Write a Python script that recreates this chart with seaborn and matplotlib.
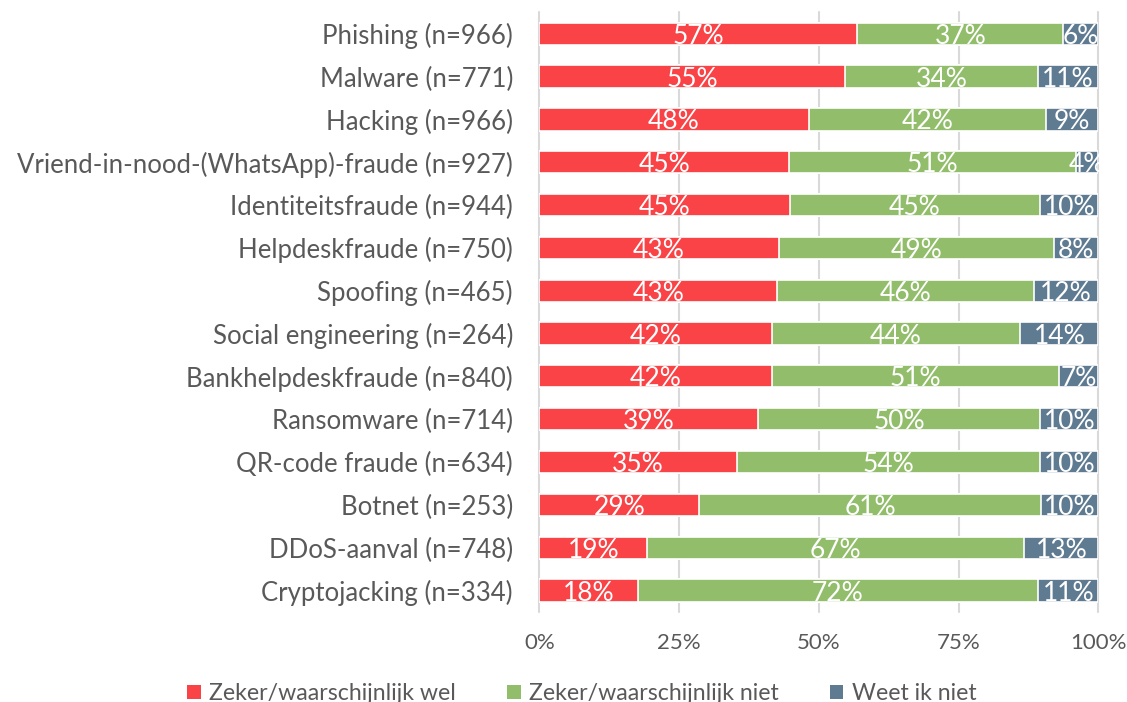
import numpy as np
import pandas as pd
import matplotlib.pyplot as plt
import seaborn as sns
from matplotlib.patches import Patch

# =====================================================
# DATA
# =====================================================

categories = [
    "Phishing (n=966)",
    "Malware (n=771)",
    "Hacking (n=966)",
    "Vriend-in-nood-(WhatsApp)-fraude (n=927)",
    "Identiteitsfraude (n=944)",
    "Helpdeskfraude (n=750)",
    "Spoofing (n=465)",
    "Social engineering (n=264)",
    "Bankhelpdeskfraude (n=840)",
    "Ransomware (n=714)",
    "QR-code fraude (n=634)",
    "Botnet (n=253)",
    "DDoS-aanval (n=748)",
    "Cryptojacking (n=334)",
]

zeker_wel = [56.9, 54.7, 48.2, 44.7, 44.8, 42.8, 42.6, 41.6, 41.6, 39.2, 35.3, 28.6, 19.3, 17.6]
zeker_niet = [36.8, 34.4, 42.4, 51.3, 44.8, 49.2, 45.8, 44.4, 51.4, 50.4, 54.3, 61.2, 67.4, 71.6]
weet_niet = [6.3, 10.9, 9.4, 4.0, 10.4, 8.0, 11.6, 14.0, 7.0, 10.4, 10.4, 10.2, 13.3, 10.8]

series_names = [
    "Zeker/waarschijnlijk wel",
    "Zeker/waarschijnlijk niet",
    "Weet ik niet",
]
colors = ["#F94346", "#92BE6C", "#5F7B91"]

xticks = [0, 25, 50, 75, 100]

# =====================================================
# STYLE
# =====================================================

sns.set_style("white")
plt.rcParams["font.family"] = ["Lato", "DejaVu Sans"]
TEXT_COLOR = "#595959"

df = pd.DataFrame({
    "categorie": categories,
    "wel": zeker_wel,
    "niet": zeker_niet,
    "weet": weet_niet,
})
df["cum_wel"] = df["wel"]
df["cum_niet"] = df["wel"] + df["niet"]
df["cum_weet"] = df["cum_niet"] + df["weet"]

fig = plt.figure(figsize=(11.27, 7.02), dpi=100)
ax = fig.add_axes([0.4785, 0.1283, 0.4962, 0.8542])

# gridlines behind bars
for t in xticks:
    ax.axvline(t, color="#D9D9D9", lw=1.5, zorder=0, clip_on=False)

# stacked bars by overlaying cumulative totals
for col, color in zip(["cum_weet", "cum_niet", "cum_wel"], colors[::-1]):
    sns.barplot(
        data=df,
        y="categorie",
        x=col,
        color=color,
        orient="h",
        width=0.52,
        edgecolor="white",
        linewidth=1.2,
        saturation=1,
        ax=ax,
        zorder=2,
    )

# value labels
for i in range(len(categories)):
    left = 0
    for val in [zeker_wel[i], zeker_niet[i], weet_niet[i]]:
        ax.text(
            left + val / 2,
            i + 0.06,
            f"{val:.0f}%",
            ha="center",
            va="center",
            color="white",
            fontsize=19,
            zorder=3,
        )
        left += val

ax.set_xlim(0, 100)
ax.set_ylim(len(categories) - 0.5, -0.5)
ax.set_xticks(xticks)
ax.set_xticklabels([f"{t}%" for t in xticks])
ax.set_xlabel("")
ax.set_ylabel("")
ax.tick_params(axis="x", length=0, pad=15, labelsize=16, labelcolor=TEXT_COLOR)
ax.tick_params(axis="y", length=0, pad=19, labelsize=18.5, labelcolor=TEXT_COLOR)
sns.despine(ax=ax, left=True, bottom=True)

handles = [Patch(facecolor=c, edgecolor="none") for c in colors]
fig.legend(
    handles,
    series_names,
    loc="center",
    bbox_to_anchor=(0.516, 0.012),
    ncol=3,
    frameon=False,
    fontsize=16.7,
    labelcolor=TEXT_COLOR,
    handlelength=0.6,
    handleheight=0.6,
    handletextpad=0.35,
    columnspacing=2.2,
)

fig.savefig("out.png", dpi=100)
